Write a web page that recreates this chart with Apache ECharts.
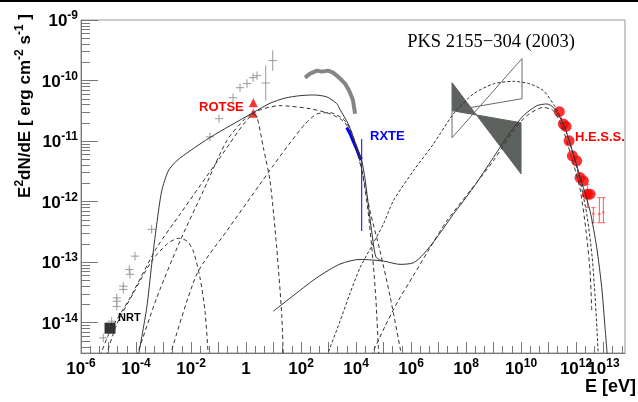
<!DOCTYPE html>
<html>
<head>
<meta charset="utf-8">
<script src="https://cdn.jsdelivr.net/npm/echarts@6/dist/echarts.min.js"></script>
<style>
html, body { margin: 0; background: #fff; }
#chart { width: 638px; height: 402px; }
</style>
</head>
<body>
<div id="chart"></div>
<script>
// all values are log10(E / eV) and log10(E^2 dN/dE / erg cm^-2 s^-1)
const xLabelValues = [-6, -4, -2, 0, 2, 4, 6, 8, 10, 12]
const xLastLabel = [13]
const yLabelValues = [-14, -13, -12, -11, -10, -9]

// archival optical / IR points (grey crosses)
const optE = [-5.19, -4.884, -4.70, -4.70, -4.70, -4.462, -4.462, -4.218, -4.244, -4.036, -3.43,
    -1.309, -0.982, -0.473, -0.218, 0.036, 0.255, 0.4, 0.716, 0.97]
const optF = [-14.25, -13.975, -13.73, -13.645, -13.59, -13.45, -13.396, -13.2, -13.12, -12.9, -12.457,
    -10.93, -10.63, -10.283, -10.118, -10.05, -9.952, -9.919, -10.04, -9.67]
const optErr = [0.07, 0.07, 0.07, 0.07, 0.07, 0.07, 0.07, 0.07, 0.07, 0.07, 0.07,
    0.07, 0.07, 0.07, 0.07, 0.07, 0.07, 0.07, 0.29, 0.17]

// X-ray spectrum (grey band)
const saxE = [2.145, 2.327, 2.582, 2.764, 2.982, 3.164, 3.345, 3.491, 3.6, 3.709, 3.782, 3.855, 3.891, 3.927, 3.964]
const saxF = [-9.952, -9.886, -9.836, -9.853, -9.836, -9.869, -9.935, -10.0, -10.05, -10.134, -10.2, -10.283, -10.333, -10.432, -10.548]

// RXTE
const rxteE = [3.662, 3.782, 3.891, 4.0, 4.073, 4.145, 4.207]
const rxteF = [-10.775, -10.879, -10.995, -11.111, -11.194, -11.276, -11.3]
const rxteBarE = 4.207
const rxteBarLo = -12.485
const rxteBarHi = -10.967

// ROTSE, NRT
const rotseE = [0.265, 0.265]
const rotseF = [-10.366, -10.54]
const nrtE = [-4.945]
const nrtF = [-14.09]

// H.E.S.S.
const hessE = [11.393, 11.538, 11.636, 11.745, 11.865, 12.025, 12.145, 12.265, 12.411, 12.509]
const hessF = [-10.515, -10.719, -10.758, -10.995, -11.243, -11.326, -11.603, -11.657, -11.877, -11.877]
const hessUlE = [12.411, 12.629, 12.847, 12.993]
const hessUlF = [-11.9, -12.2, -12.204, -12.18]
const hessUlLo = [-12.099, -12.348, -12.348, -12.348]
const hessUlHi = [-11.712, -12.099, -11.934, -11.934]

// gamma-ray bow ties
const bowFilledE = [7.491, 10.0, 10.0, 7.491]
const bowFilledF = [-10.035, -11.541, -10.697, -10.498]
const bowOpenE = [7.491, 10.036, 10.036, 7.491]
const bowOpenF = [-10.498, -10.30, -9.637, -10.945]

// model curves
const totSynE = [-3.916, -3.611, -3.429, -3.247, -3.065, -2.825, -2.52, -2.036, -1.309, -0.582, 0.255, 0.873, 1.418, 1.964, 2.447, 2.935, 3.298, 3.418, 3.72, 3.98, 4.207, 4.327, 4.473, 4.618, 4.727, 4.95]
const totSynF = [-14.55, -13.755, -13.036, -12.374, -11.823, -11.492, -11.326, -11.161, -10.94, -10.747, -10.531, -10.375, -10.29, -10.25, -10.238, -10.27, -10.38, -10.48, -10.72, -11.03, -11.33, -11.62, -12.154, -12.651, -12.916, -12.98]

const totIcE = [0.993, 1.6, 2.571, 3.418, 4.145, 4.993, 5.6, 6.084, 6.447, 6.935, 7.538, 8.265, 8.993, 9.6, 10.084, 10.571, 10.935, 11.175, 11.538, 11.902, 12.265, 12.509, 12.753, 12.935, 13.055, 13.138]
const totIcF = [-13.81, -13.594, -13.258, -13.031, -12.954, -12.982, -13.036, -13.01, -12.871, -12.596, -12.209, -11.768, -11.272, -10.858, -10.581, -10.416, -10.387, -10.444, -10.719, -11.215, -11.768, -12.154, -12.762, -13.424, -14.086, -14.555]

const icHiE = [2.935, 3.418, 3.782, 4.145, 4.509, 4.993, 5.356, 6.084, 6.811, 7.538, 8.265, 8.993, 9.72, 10.327, 10.811, 11.175, 11.418, 11.636, 11.891, 12.145, 12.4, 12.582, 12.691, 12.764, 12.811]
const icHiF = [-14.555, -13.975, -13.512, -13.093, -12.783, -12.374, -11.988, -11.492, -11.05, -10.553, -10.222, -10.056, -10.013, -10.056, -10.167, -10.387, -10.581, -10.83, -11.21, -11.657, -12.237, -12.899, -13.561, -14.141, -14.555]

const icLoE = [4.545, 5.055, 5.527, 6.073, 6.618, 7.298, 8.145, 8.993, 9.72, 10.207, 10.811, 11.175, 11.491, 11.818, 12.145, 12.364, 12.509, 12.571]
const icLoF = [-14.555, -14.058, -13.644, -13.23, -12.816, -12.32, -11.823, -11.326, -10.83, -10.581, -10.444, -10.498, -10.763, -11.243, -11.79, -12.485, -13.147, -13.81]

const synAE = [-3.975, -3.247, -2.4, -1.553, -0.702, -0.036, 0.255, 0.4, 0.629, 0.873, 1.116, 1.298, 1.356]
const synAF = [-14.555, -13.59, -12.651, -11.823, -10.995, -10.631, -10.548, -10.609, -11.106, -11.657, -12.762, -13.864, -14.555]

const synBE = [-5.309, -4.945, -4.218, -3.247, -2.4, -0.945, 0.255, 1.236, 2.327, 3.055, 3.527, 3.782, 4.0, 4.255, 4.509, 4.873, 5.236, 5.662]
const synBF = [-14.555, -14.141, -13.59, -12.762, -12.209, -11.272, -10.548, -10.415, -10.465, -10.55, -10.664, -10.83, -11.111, -11.575, -12.154, -12.816, -13.561, -14.555]

const synCE = [-2.764, -1.793, -0.702, 0.509, 0.982, 1.6, 2.145, 2.571, 3.055, 3.527, 3.782, 4.0, 4.218, 4.436, 4.618, 4.727, 4.811, 4.836]
const synCF = [-14.555, -13.202, -12.485, -11.712, -11.41, -11.03, -10.72, -10.553, -10.531, -10.631, -10.796, -11.078, -11.492, -12.154, -12.982, -13.644, -14.389, -14.555]

const synDE = [-5.091, -4.702, -4.098, -3.429, -2.884, -2.462, -2.145, -1.916, -1.673, -1.491, -1.371]
const synDF = [-14.555, -14.03, -13.512, -12.982, -12.705, -12.606, -12.651, -12.816, -13.258, -13.81, -14.555]

const X_MIN = -6
const X_MAX = 13.78
const Y_MIN = -14.5
const Y_MAX = -9

const pairs = (xs, ys) => xs.map((x, i) => [x, ys[i]])

const xMajor = []
for (let n = -6; n <= 13; n++) xMajor.push(n)
const xMinor = []
for (let n = -6; n <= 13; n++) {
    for (const f of [1 / 3, 2 / 3]) {
        if (n + f < X_MAX) xMinor.push(n + f)
    }
}
const yMinor = []
for (let n = -15; n <= -10; n++) {
    for (let k = 2; k <= 9; k++) {
        const v = n + Math.log10(k)
        if (v > Y_MIN && v < Y_MAX) yMinor.push(v)
    }
}

const labelRich = {
    b: { fontFamily: 'Liberation Sans', fontWeight: 'bold', fontSize: 17, color: '#000', lineHeight: 20, verticalAlign: 'bottom' },
    s: { fontFamily: 'Liberation Sans', fontWeight: 'bold', fontSize: 12, color: '#000', lineHeight: 13, verticalAlign: 'top' },
}
const powLabel = (v) => {
    const n = Math.round(v)
    return n === 0 ? '{b|1}' : '{b|10}{s|' + n + '}'
}

const axisGrey = '#777'
const curveColor = '#333'

const crossItem = (color) => (params, api) => {
    const x = api.value(0), y = api.value(1), e = api.value(2), dx = api.value(3)
    const c = api.coord([x, y])
    const t = api.coord([x, y + e])
    const b = api.coord([x, y - e])
    const l = api.coord([x - dx, y])
    const r = api.coord([x + dx, y])
    const st = { stroke: color, lineWidth: 1 }
    return {
        type: 'group',
        children: [
            { type: 'line', shape: { x1: c[0], y1: t[1], x2: c[0], y2: b[1] }, style: st },
            { type: 'line', shape: { x1: l[0], y1: c[1], x2: r[0], y2: c[1] }, style: st },
        ],
    }
}

const barItem = (color, cap) => (params, api) => {
    const x = api.value(0), y = api.value(1), lo = api.value(2), hi = api.value(3)
    const c = api.coord([x, y])
    const t = api.coord([x, hi])
    const b = api.coord([x, lo])
    const st = { stroke: color, lineWidth: 1 }
    const children = [{ type: 'line', shape: { x1: c[0], y1: t[1], x2: c[0], y2: b[1] }, style: st }]
    if (cap) {
        children.push({ type: 'line', shape: { x1: c[0] - 2, y1: b[1], x2: c[0] + 2, y2: b[1] }, style: st })
        children.push({ type: 'line', shape: { x1: c[0] - 2, y1: t[1], x2: c[0] + 2, y2: t[1] }, style: st })
        children.push({ type: 'circle', shape: { cx: c[0], cy: c[1], r: 1.2 }, style: { fill: color } })
    }
    return { type: 'group', children }
}

const polygonItem = (fill, stroke) => (params, api) => {
    if (params.dataIndex !== 0) return null
    const pts = []
    for (let i = 0; i < params.dataInsideLength; i++) {
        pts.push(api.coord([api.value(0, i), api.value(1, i)]))
    }
    return { type: 'polygon', shape: { points: pts }, style: { fill, stroke, lineWidth: 1 } }
}

const curve = (name, xs, ys, type, width) => ({
    name,
    type: 'line',
    data: pairs(xs, ys),
    showSymbol: false,
    symbol: 'none',
    smooth: 0.25,
    clip: true,
    lineStyle: { color: curveColor, width: width || 1, type: type || 'solid' },
    z: 5,
})

const chart = echarts.init(document.getElementById('chart'), null, { renderer: 'canvas' })

chart.setOption({
    animation: false,
    backgroundColor: '#fff',
    grid: {
        left: 81,
        right: 13,
        top: 20,
        bottom: 49,
        show: true,
        borderColor: '#999',
        borderWidth: 1,
    },
    xAxis: [
        {
            type: 'value',
            min: X_MIN,
            max: X_MAX,
            position: 'bottom',
            splitLine: { show: false },
            axisLine: { onZero: false, lineStyle: { color: axisGrey } },
            axisTick: { inside: true, length: 11, customValues: xMajor, lineStyle: { color: axisGrey } },
            axisLabel: {
                customValues: xLabelValues,
                formatter: powLabel,
                rich: labelRich,
                margin: 5,
                hideOverlap: false,
            },
        },
        {
            type: 'value',
            min: X_MIN,
            max: X_MAX,
            position: 'bottom',
            splitLine: { show: false },
            axisLine: { show: false, onZero: false },
            axisTick: { inside: true, length: 7, customValues: xMinor, lineStyle: { color: axisGrey } },
            axisLabel: { show: false },
        },
        {
            // separate axis for the 10^13 label so it is not dropped next to 10^12
            type: 'value',
            min: X_MIN,
            max: X_MAX,
            position: 'bottom',
            splitLine: { show: false },
            axisLine: { show: false, onZero: false },
            axisTick: { show: false },
            axisLabel: {
                customValues: xLastLabel,
                formatter: powLabel,
                rich: labelRich,
                margin: 5,
                hideOverlap: false,
            },
        },
    ],
    yAxis: [
        {
            type: 'value',
            min: Y_MIN,
            max: Y_MAX,
            position: 'left',
            splitLine: { show: false },
            axisLine: { onZero: false, lineStyle: { color: axisGrey } },
            axisTick: { inside: true, length: 17, customValues: yLabelValues, lineStyle: { color: axisGrey } },
            axisLabel: {
                customValues: yLabelValues,
                formatter: powLabel,
                rich: labelRich,
                margin: 3,
                hideOverlap: false,
                showMinLabel: true,
                showMaxLabel: true,
            },
        },
        {
            type: 'value',
            min: Y_MIN,
            max: Y_MAX,
            position: 'left',
            splitLine: { show: false },
            axisLine: { show: false, onZero: false },
            axisTick: { inside: true, length: 9, customValues: yMinor, lineStyle: { color: axisGrey } },
            axisLabel: { show: false },
        },
    ],
    graphic: [
        { type: 'rect', shape: { x: 0, y: 0, width: 638, height: 2 }, style: { fill: '#000' } },
        {
            type: 'text', x: 491, y: 42.5,
            style: { text: 'PKS 2155\u2212304 (2003)', font: '18.5px "Liberation Serif"', fill: '#000', align: 'center', verticalAlign: 'middle' },
        },
        {
            type: 'text', x: 24, y: 106, rotation: Math.PI / 2,
            style: {
                text: '{b|E}{s|2}{b|dN/dE [ erg cm}{s|-2}{b| s}{s|-1}{b| ]}',
                rich: labelRich, align: 'center', verticalAlign: 'middle',
            },
        },
        {
            type: 'text', x: 636, y: 387.5,
            style: { text: 'E [eV]', font: 'bold 18px "Liberation Sans"', fill: '#000', align: 'right', verticalAlign: 'middle' },
        },
        { type: 'text', x: 199, y: 107.5, style: { text: 'ROTSE', font: 'bold 13px "Liberation Sans"', fill: '#ff0000', align: 'left', verticalAlign: 'middle' } },
        { type: 'text', x: 370, y: 136, style: { text: 'RXTE', font: 'bold 13px "Liberation Sans"', fill: '#0000ff', align: 'left', verticalAlign: 'middle' } },
        { type: 'text', x: 575, y: 137, style: { text: 'H.E.S.S.', font: 'bold 13px "Liberation Sans"', fill: '#ff0000', align: 'left', verticalAlign: 'middle' } },
        { type: 'text', x: 118, y: 317.5, style: { text: 'NRT', font: 'bold 11px "Liberation Sans"', fill: '#000', align: 'left', verticalAlign: 'middle' } },
    ],
    series: [
        {
            name: 'bowtie filled',
            type: 'custom',
            clip: true,
            renderItem: polygonItem('#5e625e', '#5e625e'),
            data: pairs(bowFilledE, bowFilledF),
            z: 1,
        },
        {
            name: 'bowtie open',
            type: 'custom',
            clip: true,
            renderItem: polygonItem('none', '#6a6a6a'),
            data: pairs(bowOpenE, bowOpenF),
            z: 1,
        },
        {
            name: 'optical',
            type: 'custom',
            clip: true,
            renderItem: crossItem('#9a9a9a'),
            data: optE.map((e, i) => [e, optF[i], optErr[i], 0.15]),
            z: 2,
        },
        {
            name: 'X-ray',
            type: 'line',
            data: pairs(saxE, saxF),
            symbol: 'none',
            lineStyle: { color: '#858585', width: 4 },
            z: 2,
        },
        {
            name: 'RXTE',
            type: 'line',
            data: pairs(rxteE, rxteF),
            symbol: 'none',
            lineStyle: { color: '#0000ff', width: 3 },
            z: 3,
        },
        {
            name: 'RXTE bar',
            type: 'custom',
            clip: true,
            renderItem: barItem('#0000ff', false),
            data: [[rxteBarE, rxteF[rxteF.length - 1], rxteBarLo, rxteBarHi]],
            z: 3,
        },
        {
            name: 'H.E.S.S. high energy',
            type: 'custom',
            clip: true,
            renderItem: barItem('#ff5a5a', true),
            data: hessUlE.map((e, i) => [e, hessUlF[i], hessUlLo[i], hessUlHi[i]]),
            z: 3,
        },
        {
            name: 'H.E.S.S.',
            type: 'scatter',
            data: pairs(hessE, hessF),
            symbol: 'circle',
            symbolSize: 11,
            itemStyle: { color: '#ff0000' },
            z: 3,
        },
        {
            name: 'ROTSE',
            type: 'scatter',
            data: pairs(rotseE, rotseF),
            symbol: 'triangle',
            symbolSize: 9,
            itemStyle: { color: '#ff0000' },
            z: 3,
        },
        {
            name: 'NRT',
            type: 'scatter',
            data: pairs(nrtE, nrtF),
            symbol: 'rect',
            symbolSize: 11,
            itemStyle: { color: '#000' },
            z: 3,
        },
        curve('total sync', totSynE, totSynF, 'solid'),
        curve('total IC', totIcE, totIcF, 'solid'),
        curve('IC high', icHiE, icHiF, [3, 2]),
        curve('IC low', icLoE, icLoF, [4, 3]),
        curve('sync A', synAE, synAF, [4, 3]),
        curve('sync B', synBE, synBF, [4, 3]),
        curve('sync C', synCE, synCF, [4, 3]),
        curve('sync D', synDE, synDF, [4, 3]),
    ],
})

window.addEventListener('resize', () => chart.resize())
</script>
</body>
</html>
